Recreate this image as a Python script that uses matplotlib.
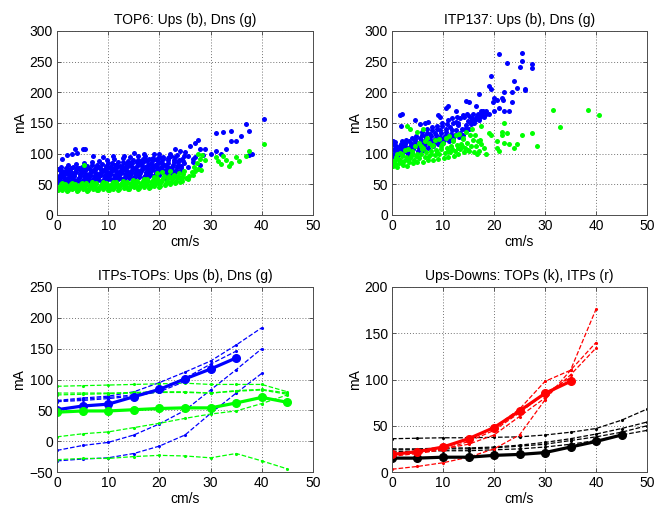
import numpy as np
import matplotlib
matplotlib.use('Agg')
import matplotlib.pyplot as plt

plt.rcParams['font.family'] = ['Liberation Sans', 'DejaVu Sans']
plt.rcParams['font.size'] = 10

# ---------------- TOP6 scatter ----------------
top6_ups_x = [0.1, 0.3, 0.5, 0.7, 0.9, 0.2, 0.6, 0.8, 0.4, 0.5,
              1.1, 1.3, 1.5, 1.7, 1.9, 1.2, 1.6, 1.8, 1.4, 1.0,
              2.0, 2.2, 2.4, 2.6, 2.8, 2.1, 2.5, 2.9, 2.3, 2.7,
              3.1, 3.3, 3.5, 3.7, 3.9, 3.0, 3.4, 3.8, 3.2, 3.6,
              4.0, 4.2, 4.4, 4.6, 4.8, 4.1, 4.5, 4.9, 4.3, 4.7,
              5.1, 5.3, 5.5, 5.7, 5.9, 5.0, 5.4, 5.8, 5.2, 5.6,
              6.0, 6.2, 6.4, 6.6, 6.8, 6.1, 6.5, 6.9, 6.3, 6.7,
              7.1, 7.3, 7.5, 7.7, 7.9, 7.0, 7.4, 7.8, 7.2, 7.6,
              8.0, 8.2, 8.4, 8.6, 8.8, 8.1, 8.5, 8.9, 8.3, 8.7,
              9.1, 9.3, 9.5, 9.7, 9.9, 9.0, 9.4, 9.8, 9.2, 9.6,
              10.0, 10.2, 10.4, 10.6, 10.8, 10.1, 10.5, 10.9, 10.3, 10.7,
              11.1, 11.3, 11.5, 11.7, 11.9, 11.0, 11.4, 11.8, 11.2, 11.6,
              12.0, 12.2, 12.4, 12.6, 12.8, 12.1, 12.5, 12.9, 12.3, 12.7,
              13.1, 13.3, 13.5, 13.7, 13.9, 13.0, 13.4, 13.8, 13.2, 13.6,
              14.0, 14.2, 14.4, 14.6, 14.8, 14.1, 14.5, 14.9, 14.3, 14.7,
              15.1, 15.3, 15.5, 15.7, 15.9, 15.0, 15.4, 15.8, 15.2, 15.6,
              16.0, 16.2, 16.4, 16.6, 16.8, 16.1, 16.5, 16.9, 16.3, 16.7,
              17.1, 17.3, 17.5, 17.7, 17.9, 17.0, 17.4, 17.8, 17.2, 17.6,
              18.0, 18.2, 18.4, 18.6, 18.8, 18.1, 18.5, 18.9, 18.3, 18.7,
              19.1, 19.3, 19.5, 19.7, 19.9, 19.0, 19.4, 19.8, 19.2, 19.6,
              20.0, 20.2, 20.4, 20.6, 20.8, 20.1, 20.5, 20.9, 20.3, 20.7,
              21.1, 21.3, 21.5, 21.7, 21.9, 21.0, 21.4, 21.8, 21.2, 21.6,
              22.0, 22.3, 22.6, 22.9, 22.2, 22.5, 22.8, 22.4,
              23.1, 23.4, 23.7, 23.0, 23.3, 23.6, 23.9, 23.5,
              24.0, 24.3, 24.6, 24.9, 24.2, 24.5, 24.8,
              0.4, 1.6, 2.5, 3.4, 4.6, 5.5, 6.6, 7.5, 8.4, 9.6, 10.5, 11.4,
              12.6, 13.5, 14.4, 15.6, 16.5, 17.4, 18.6, 19.5, 20.4, 21.6,
              0.8, 2.2, 3.8, 5.2, 6.8, 8.2, 9.8, 11.2, 12.8, 14.2, 15.8, 17.2,
              1.0, 2.0, 3.0, 3.5, 4.0, 5.0, 5.5, 7.0, 9.0, 11.0, 13.0, 15.0,
              17.0, 19.0, 20.0, 22.0, 23.0, 24.0, 25.0, 25.5, 26.0, 26.5,
              27.0, 27.5, 28.0, 28.5, 29.0, 30.0, 31.0, 31.0, 32.0, 32.5,
              33.0, 34.0, 34.0, 35.0, 36.0, 37.0, 37.5, 37.5, 38.0, 40.5,
              21.0, 22.5, 25.5, 26.5, 27.0, 28.0]
top6_ups_y = [53, 58, 62, 66, 71, 75, 55, 69, 60, 73,
              56, 61, 54, 68, 73, 65, 59, 76, 70, 63,
              54, 60, 66, 72, 77, 57, 63, 69, 74, 53,
              58, 64, 55, 70, 76, 61, 67, 73, 79, 53,
              55, 61, 67, 73, 79, 58, 64, 70, 76, 54,
              57, 63, 69, 75, 80, 54, 60, 66, 72, 78,
              56, 62, 68, 74, 81, 59, 65, 71, 77, 55,
              58, 64, 70, 76, 82, 55, 61, 67, 73, 79,
              57, 63, 69, 75, 83, 60, 66, 72, 78, 56,
              59, 65, 71, 77, 84, 56, 62, 68, 74, 80,
              58, 64, 70, 76, 85, 61, 67, 73, 79, 57,
              60, 66, 72, 78, 86, 57, 63, 69, 75, 82,
              59, 65, 71, 77, 87, 62, 68, 74, 80, 58,
              61, 67, 73, 79, 88, 58, 64, 70, 76, 84,
              60, 66, 72, 78, 89, 63, 69, 75, 81, 85,
              62, 68, 74, 80, 90, 60, 65, 71, 77, 86,
              62, 68, 74, 80, 91, 65, 71, 77, 83, 87,
              64, 70, 76, 82, 92, 62, 67, 73, 79, 88,
              64, 70, 76, 82, 93, 67, 73, 79, 85, 89,
              66, 72, 78, 84, 94, 64, 69, 75, 81, 90,
              66, 72, 78, 84, 95, 69, 75, 81, 87, 91,
              67, 73, 79, 85, 94, 65, 70, 76, 82, 90,
              68, 75, 82, 90, 96, 72, 86, 79,
              70, 78, 86, 94, 74, 82, 90, 98,
              72, 80, 88, 97, 76, 92, 84,
              64, 67, 70, 68, 71, 73, 72, 75, 77, 76, 79, 81,
              80, 83, 84, 86, 88, 89, 91, 92, 93, 93,
              79, 81, 83, 85, 86, 88, 90, 91, 93, 94, 96, 97,
              92, 98, 100, 107, 101, 107, 107, 96, 95, 97, 97, 101,
              100, 100, 99, 100, 108, 105, 103, 96, 112, 92,
              118, 122, 108, 98, 107, 100, 133, 105, 99, 135,
              107, 137, 120, 120, 128, 149, 137, 98, 100, 157,
              60, 62, 78, 86, 95, 82]

top6_dns_x = [0.1, 0.4, 0.7, 0.2, 0.5, 0.9, 1.0, 1.3, 1.6, 1.9, 1.2, 1.7,
              2.1, 2.4, 2.7, 2.0, 2.5, 2.9, 3.0, 3.3, 3.6, 3.9, 3.2, 3.7,
              4.1, 4.4, 4.7, 4.0, 4.5, 4.9, 5.0, 5.3, 5.6, 5.9, 5.2, 5.7,
              6.1, 6.4, 6.7, 6.0, 6.5, 6.9, 7.0, 7.3, 7.6, 7.9, 7.2, 7.7,
              8.1, 8.4, 8.7, 8.0, 8.5, 8.9, 9.0, 9.3, 9.6, 9.9, 9.2, 9.7,
              10.1, 10.4, 10.7, 10.0, 10.5, 10.9, 11.0, 11.3, 11.6, 11.9, 11.2, 11.7,
              12.1, 12.4, 12.7, 12.0, 12.5, 12.9, 13.0, 13.3, 13.6, 13.9, 13.2, 13.7,
              14.1, 14.4, 14.7, 14.0, 14.5, 14.9, 15.0, 15.3, 15.6, 15.9, 15.2, 15.7,
              16.1, 16.4, 16.7, 16.0, 16.5, 16.9, 17.0, 17.3, 17.6, 17.9, 17.2, 17.7,
              18.1, 18.4, 18.7, 18.0, 18.5, 18.9, 19.0, 19.3, 19.6, 19.9, 19.2, 19.7,
              20.1, 20.4, 20.7, 20.0, 20.5, 20.9,
              21.0, 21.4, 21.8, 21.2, 21.6, 22.1, 22.5, 22.9, 22.3, 22.7,
              23.0, 23.4, 23.8, 23.2, 23.6, 24.1, 24.5, 24.9, 24.3, 24.7,
              25.2, 25.8, 26.3, 26.8, 27.0, 27.3, 27.6, 28.0, 28.4, 27.5, 28.2,
              26.5, 25.5, 24.5, 5.2, 31.0, 31.5, 32.0, 32.5, 33.0, 33.5, 34.0,
              35.0, 35.5, 37.0, 37.5, 40.5, 29.0, 20.5, 22.0, 19.5]
top6_dns_y = [40, 45, 50, 43, 48, 52, 41, 46, 51, 39, 44, 49,
              40, 45, 50, 43, 48, 52, 42, 47, 51, 39, 44, 49,
              40, 45, 50, 43, 48, 52, 42, 47, 52, 39, 44, 49,
              40, 45, 50, 43, 48, 53, 42, 47, 52, 40, 45, 50,
              41, 46, 51, 44, 49, 53, 42, 47, 52, 40, 45, 50,
              41, 46, 51, 44, 49, 54, 43, 48, 53, 41, 46, 51,
              42, 47, 52, 45, 50, 55, 44, 49, 54, 42, 47, 52,
              43, 48, 53, 46, 51, 57, 45, 50, 56, 43, 48, 53,
              44, 49, 55, 47, 52, 59, 46, 52, 58, 44, 49, 55,
              45, 51, 57, 48, 54, 62, 47, 53, 60, 46, 50, 57,
              47, 53, 60, 50, 57, 64,
              49, 56, 63, 52, 60, 50, 58, 66, 54, 62,
              52, 60, 68, 56, 64, 54, 62, 72, 58, 67,
              60, 64, 70, 78, 72, 85, 100, 92, 98, 75, 74,
              66, 58, 55, 82, 95, 88, 83, 97, 90, 80, 85,
              95, 88, 97, 105, 115, 90, 70, 72, 68]

# ---------------- ITP137 scatter ----------------
itp_ups_x = [0.1, 0.3, 0.5, 0.7, 0.2, 0.6, 0.9, 0.4, 0.8, 0.1,
             1.1, 1.3, 1.5, 1.7, 1.9, 1.2, 1.6, 1.8,
             2.0, 2.2, 2.4, 2.6, 2.8, 2.1, 2.5, 2.9,
             3.1, 3.3, 3.5, 3.7, 3.9, 3.0, 3.4, 3.8,
             4.0, 4.2, 4.4, 4.6, 4.8, 4.1, 4.5, 4.9,
             5.1, 5.3, 5.5, 5.7, 5.9, 5.0, 5.4, 5.8,
             6.0, 6.2, 6.4, 6.6, 6.8, 6.1, 6.5, 6.9,
             7.1, 7.3, 7.5, 7.7, 7.9, 7.0, 7.4, 7.8,
             8.0, 8.2, 8.4, 8.6, 8.8, 8.1, 8.5, 8.9,
             9.1, 9.3, 9.5, 9.7, 9.9, 9.0, 9.4, 9.8,
             10.0, 10.2, 10.4, 10.6, 10.8, 10.1, 10.5, 10.9,
             11.1, 11.3, 11.5, 11.7, 11.9, 11.0, 11.4, 11.8,
             12.0, 12.3, 12.6, 12.9, 12.2, 12.5, 12.8,
             13.1, 13.4, 13.7, 13.0, 13.3, 13.6, 13.9,
             14.0, 14.3, 14.6, 14.9, 14.2, 14.5, 14.8,
             15.1, 15.4, 15.7, 15.0, 15.3, 15.6, 15.9,
             16.0, 16.4, 16.8, 16.2, 16.6,
             17.0, 17.4, 17.8, 17.2, 17.6,
             1.5, 2.0, 1.7, 4.5, 5.5, 6.5, 7.0, 9.0, 9.5, 10.5, 11.0, 12.5,
             14.5, 15.0, 16.5, 17.0, 17.5, 18.5, 19.0, 19.5, 19.5, 20.0,
             20.5, 21.0, 21.5, 22.0, 22.5, 22.0, 23.0, 23.5, 24.0, 23.5,
             24.5, 25.0, 25.5, 25.5, 26.0, 26.0, 27.5, 27.5, 20.0, 19.0,
             21.0, 18.0, 18.5, 19.8, 21.8]
itp_ups_y = [96, 100, 105, 110, 115, 119, 102, 108, 113, 120,
             98, 104, 110, 116, 120, 101, 113, 107,
             100, 106, 112, 118, 123, 103, 115, 109,
             99, 105, 111, 117, 125, 102, 120, 114,
             102, 108, 114, 120, 128, 111, 124, 117,
             104, 110, 116, 122, 130, 113, 126, 135,
             106, 112, 118, 124, 134, 115, 128, 140,
             110, 116, 122, 128, 138, 119, 132, 144,
             112, 118, 124, 130, 140, 121, 134, 145,
             115, 121, 127, 133, 145, 124, 138, 150,
             117, 123, 129, 135, 148, 126, 141, 155,
             120, 126, 132, 138, 150, 129, 144, 158,
             124, 131, 138, 146, 128, 152, 160,
             127, 134, 141, 150, 158, 131, 163,
             130, 138, 146, 154, 160, 142, 165,
             140, 148, 156, 162, 152, 158, 165,
             150, 158, 165, 155, 162,
             155, 163, 170, 160, 167,
             163, 165, 145, 155, 148, 150, 152, 163, 160, 175, 177, 170,
             186, 185, 178, 198, 170, 170, 210, 205, 227, 190,
             188, 262, 190, 200, 248, 170, 170, 185, 218, 200,
             207, 241, 264, 251, 205, 203, 246, 239, 170, 165,
             175, 160, 165, 185, 188]

itp_dns_x = [0.1, 0.3, 0.5, 0.7, 0.9, 0.2, 0.6,
             1.0, 1.3, 1.6, 1.9, 1.2, 1.5, 1.8,
             2.1, 2.4, 2.7, 2.0, 2.5, 2.9, 3.0, 3.3, 3.6, 3.9, 3.2, 3.7,
             4.1, 4.4, 4.7, 4.0, 4.5, 4.9, 5.0, 5.3, 5.6, 5.9, 5.2, 5.7,
             6.1, 6.4, 6.7, 6.0, 6.5, 6.9, 7.0, 7.3, 7.6, 7.9, 7.2, 7.7,
             8.1, 8.4, 8.7, 8.0, 8.5, 8.9, 9.0, 9.3, 9.6, 9.9, 9.2, 9.7,
             10.1, 10.4, 10.7, 10.0, 10.5, 10.9, 11.0, 11.3, 11.6, 11.9, 11.2, 11.7,
             12.1, 12.4, 12.7, 12.0, 12.5, 12.9, 13.0, 13.3, 13.6, 13.9, 13.2, 13.7,
             14.1, 14.4, 14.7, 14.0, 14.5, 14.9, 15.0, 15.4, 15.8, 15.2, 15.6,
             16.0, 16.4, 16.8, 16.2, 16.6, 17.0, 17.4, 17.2,
             3.0, 3.5, 6.0, 5.0, 17.5, 18.0, 18.5, 19.0, 19.5, 20.5, 20.5, 21.0,
             21.5, 21.5, 22.0, 22.0, 22.5, 23.0, 24.0, 24.5, 25.5, 27.5, 28.5,
             31.5, 33.0, 38.5, 40.5]
itp_dns_y = [80, 85, 90, 95, 100, 88, 83,
             78, 84, 89, 96, 92, 101, 86,
             82, 88, 95, 100, 106, 91, 80, 86, 93, 100, 108, 97,
             84, 90, 97, 104, 112, 100, 86, 93, 100, 108, 118, 112,
             87, 94, 102, 110, 120, 125, 89, 96, 104, 112, 118, 100,
             90, 98, 106, 114, 122, 102, 92, 100, 108, 116, 124, 112,
             93, 101, 110, 118, 126, 105, 95, 103, 112, 120, 128, 108,
             97, 105, 114, 122, 130, 110, 100, 108, 116, 124, 132, 112,
             102, 110, 118, 126, 135, 106, 104, 113, 122, 130, 140,
             102, 112, 120, 130, 100, 105, 115, 122,
             145, 140, 140, 135, 145, 110, 100, 133, 130, 110, 120, 105,
             135, 130, 150, 118, 133, 115, 110, 115, 130, 133, 113,
             171, 143, 171, 163]

# ---------------- binned curves ----------------
speed = [0, 5, 10, 15, 20, 25, 30, 35, 40, 45, 50]

# ITPs-TOPs, upstream (blue)
ups_mean = [51, 57, 60, 72, 84, 101, 117, 135]
ups_runs = [[66, 70, 73, 80, 95, 112, 130, 156, 184],
            [65, 68, 71, 75, 84, 102, 125, 146],
            [64, 66, 69, 73, 80, 97],
            [-15, -7, -2, 10, 28, 50, 83, 116, 150],
            [-32, -29, -27, -20, -8, 10, 45, 78, 110]]
# ITPs-TOPs, downstream (green)
dns_mean = [47, 49, 49, 51, 53, 54, 54, 62, 71, 63]
dns_runs = [[89, 90, 91, 92, 93, 94, 92, 92, 92, 80],
            [78, 78, 78, 79, 80, 80, 78, 82, 84, 78],
            [75, 76, 77, 78, 79, 79, 78, 81, 83, 76],
            [7, 12, 15, 22, 29, 37, 44, 49, 61, 75],
            [-30, -28, -28, -25, -23, -24, -27, -20, -32, -45]]

# Ups-Downs, TOPs (black) and ITPs (red)
tops_mean = [15, 15, 16, 16, 18, 19, 21, 27, 33, 40]
tops_runs = [[36, 36.5, 37, 37, 37.5, 38, 40, 43, 47, 56, 68],
             [25, 25, 26, 26, 27, 29, 32, 36, 41, 47, 54],
             [24, 24, 25, 25, 26, 28, 30, 34, 38, 43, 50],
             [22, 22, 23, 23, 24, 25, 27, 30, 34, 40, 45]]
itps_mean = [19, 22, 27, 36, 48, 66, 85, 98]
itps_runs = [[3, 6, 10, 16, 25, 40, 78, 110, 176],
             [18, 22, 26, 35, 48, 68, 98, 110, 140],
             [20, 21, 25, 30, 40, 60, 80, 105, 134],
             [17, 20, 24, 33, 45, 64, 85, 102]]

titles = ['TOP6: Ups (b), Dns (g)', 'ITP137: Ups (b), Dns (g)',
          'ITPs-TOPs: Ups (b), Dns (g)', 'Ups-Downs: TOPs (k), ITPs (r)']

W, H = 666, 508
fig = plt.figure(figsize=(W / 100, H / 100), dpi=100)
fig.patch.set_facecolor('white')

boxes = [(57, 31, 313, 215), (392, 31, 647, 215),
         (57, 287, 313, 472), (392, 287, 647, 472)]
axes = []
for (l, t, r, b) in boxes:
    ax = fig.add_axes([l / W, 1 - b / H, (r - l) / W, (b - t) / H])
    axes.append(ax)


def style(ax, title, ylim, yticks):
    ax.set_xlim(0, 50)
    ax.set_ylim(*ylim)
    ax.set_xticks([0, 10, 20, 30, 40, 50])
    ax.set_yticks(yticks)
    ax.grid(True, ls=(0, (1, 2)), color='0.45', lw=0.7)
    ax.set_axisbelow(True)
    ax.tick_params(direction='in', top=True, right=True, length=3,
                   width=0.6, colors='0.25', labelcolor='black', labelsize=10, pad=3)
    for s in ax.spines.values():
        s.set_color('0.3')
        s.set_linewidth(0.7)
    ax.set_title(title, fontsize=10, pad=5)
    ax.set_xlabel('cm/s', fontsize=10, labelpad=1)
    ax.set_ylabel('mA', fontsize=10, labelpad=2)


ms = 3.6
ax = axes[0]
ax.plot(top6_ups_x, top6_ups_y, 'o', color='b', ms=ms, mew=0)
ax.plot(top6_dns_x, top6_dns_y, 'o', color='#00ff00', ms=ms, mew=0)
style(ax, titles[0], (0, 300), range(0, 301, 50))

ax = axes[1]
ax.plot(itp_ups_x, itp_ups_y, 'o', color='b', ms=ms, mew=0)
ax.plot(itp_dns_x, itp_dns_y, 'o', color='#00ff00', ms=ms, mew=0)
style(ax, titles[1], (0, 300), range(0, 301, 50))

ax = axes[2]
for run in ups_runs:
    ax.plot(speed[:len(run)], run, '--', color='b', lw=0.9, marker='.', ms=2.5)
for run in dns_runs:
    ax.plot(speed[:len(run)], run, '--', color='#00ff00', lw=0.9, marker='.', ms=2.5)
ax.plot(speed[:len(ups_mean)], ups_mean, '-o', color='b', lw=2.3, ms=5.5)
ax.plot(speed[:len(dns_mean)], dns_mean, '-o', color='#00ff00', lw=2.3, ms=5.5)
style(ax, titles[2], (-50, 250), range(-50, 251, 50))

ax = axes[3]
for run in tops_runs:
    ax.plot(speed[:len(run)], run, '--', color='k', lw=0.9, marker='.', ms=2.5)
for run in itps_runs:
    ax.plot(speed[:len(run)], run, '--', color='r', lw=0.9, marker='.', ms=2.5)
ax.plot(speed[:len(tops_mean)], tops_mean, '-o', color='k', lw=2.3, ms=5.5)
ax.plot(speed[:len(itps_mean)], itps_mean, '-o', color='r', lw=2.3, ms=5.5)
style(ax, titles[3], (0, 200), range(0, 201, 50))

fig.savefig('out.png', dpi=100, facecolor='white')
